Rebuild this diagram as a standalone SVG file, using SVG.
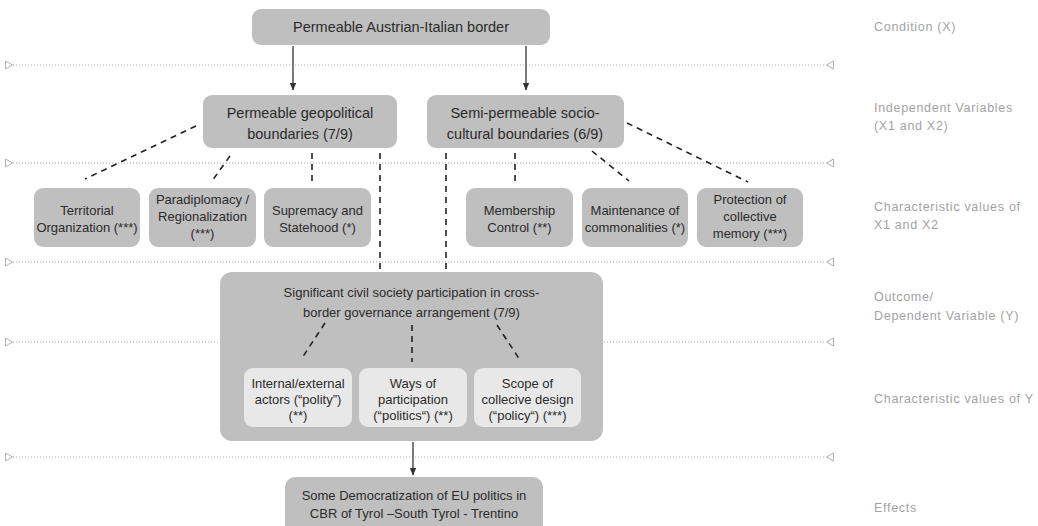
<svg xmlns="http://www.w3.org/2000/svg" width="1038" height="526" viewBox="0 0 1038 526">
<defs>
<style>
.box{fill:#bfbfbf;}
.inner{fill:#e8e8e8;}
.t{font-family:"Liberation Sans",Arial,sans-serif;fill:#2b2b2b;text-anchor:middle;}
.t14{font-size:14.5px;}
.t13{font-size:13px;}
.lab{font-family:"Liberation Sans",Arial,sans-serif;font-size:12.5px;fill:#a3a3a3;letter-spacing:0.7px;}
.dot{stroke:#a8a8a8;stroke-width:1;stroke-dasharray:1,2;fill:none;}
.tri{fill:#fff;stroke:#b0b0b0;stroke-width:1;}
.dash{stroke:#222;stroke-width:1.6;stroke-dasharray:6,5;fill:none;}
.arr{stroke:#333;stroke-width:1.3;fill:none;marker-end:url(#ah);}
</style>
<marker id="ah" markerWidth="8" markerHeight="8" refX="7" refY="4" orient="auto" markerUnits="userSpaceOnUse">
<path d="M0,0.8 L7.5,4 L0,7.2 Z" fill="#333"/>
</marker>
</defs>
<rect width="1038" height="526" fill="#fff"/>

<g id="guides">
<line class="dot" x1="13" y1="65" x2="826" y2="65"/>
<line class="dot" x1="13" y1="163" x2="826" y2="163"/>
<line class="dot" x1="13" y1="262" x2="826" y2="262"/>
<line class="dot" x1="13" y1="342" x2="826" y2="342"/>
<line class="dot" x1="13" y1="457" x2="826" y2="457"/>
<path class="tri" d="M5.5,61 L12.5,65 L5.5,69 Z"/>
<path class="tri" d="M5.5,159 L12.5,163 L5.5,167 Z"/>
<path class="tri" d="M5.5,258 L12.5,262 L5.5,266 Z"/>
<path class="tri" d="M5.5,338 L12.5,342 L5.5,346 Z"/>
<path class="tri" d="M5.5,453 L12.5,457 L5.5,461 Z"/>
<path class="tri" d="M833.5,61 L826.5,65 L833.5,69 Z"/>
<path class="tri" d="M833.5,159 L826.5,163 L833.5,167 Z"/>
<path class="tri" d="M833.5,258 L826.5,262 L833.5,266 Z"/>
<path class="tri" d="M833.5,338 L826.5,342 L833.5,346 Z"/>
<path class="tri" d="M833.5,453 L826.5,457 L833.5,461 Z"/>
</g>

<g id="labels">
<text class="lab" x="874" y="31">Condition (X)</text>
<text class="lab" x="874" y="112">Independent Variables</text>
<text class="lab" x="874" y="130">(X1 and X2)</text>
<text class="lab" x="874" y="211">Characteristic values of</text>
<text class="lab" x="874" y="229">X1 and X2</text>
<text class="lab" x="874" y="301">Outcome/</text>
<text class="lab" x="874" y="320">Dependent Variable (Y)</text>
<text class="lab" x="874" y="403">Characteristic values of Y</text>
<text class="lab" x="874" y="512">Effects</text>
</g>

<g id="n-condition">
<rect class="box" x="252" y="9" width="298" height="36" rx="9"/>
<text class="t t14" x="401" y="32">Permeable Austrian-Italian border</text>
</g>

<g id="n-geo">
<rect class="box" x="203" y="95" width="194" height="53" rx="9"/>
<text class="t t14" x="300" y="118">Permeable geopolitical</text>
<text class="t t14" x="300" y="139">boundaries (7/9)</text>
</g>

<g id="n-socio">
<rect class="box" x="427" y="95" width="197" height="53" rx="9"/>
<text class="t t14" x="525" y="118">Semi-permeable socio-</text>
<text class="t t14" x="525" y="139">cultural boundaries (6/9)</text>
</g>

<g id="n-territorial">
<rect class="box" x="34" y="188" width="106" height="59" rx="9"/>
<text class="t t13" x="87" y="215">Territorial</text>
<text class="t t13" x="87" y="232">Organization (***)</text>
</g>

<g id="n-paradiplomacy">
<rect class="box" x="149" y="188" width="107" height="59" rx="9"/>
<text class="t t13" x="202.5" y="204">Paradiplomacy /</text>
<text class="t t13" x="202.5" y="221">Regionalization</text>
<text class="t t13" x="202.5" y="238">(***)</text>
</g>

<g id="n-supremacy">
<rect class="box" x="264" y="188" width="107" height="59" rx="9"/>
<text class="t t13" x="317.5" y="215">Supremacy and</text>
<text class="t t13" x="317.5" y="232">Statehood (*)</text>
</g>

<g id="n-membership">
<rect class="box" x="466" y="188" width="107" height="59" rx="9"/>
<text class="t t13" x="519.5" y="215">Membership</text>
<text class="t t13" x="519.5" y="232">Control (**)</text>
</g>

<g id="n-maintenance">
<rect class="box" x="582" y="188" width="106" height="59" rx="9"/>
<text class="t t13" x="635" y="215">Maintenance of</text>
<text class="t t13" x="635" y="232">commonalities (*)</text>
</g>

<g id="n-protection">
<rect class="box" x="697" y="188" width="106" height="59" rx="9"/>
<text class="t t13" x="750" y="204">Protection of</text>
<text class="t t13" x="750" y="221">collective</text>
<text class="t t13" x="750" y="238">memory (***)</text>
</g>

<g id="n-outcome">
<rect class="box" x="220" y="272" width="383" height="169" rx="12"/>
<text class="t t13" x="411.5" y="297">Significant civil society participation in cross-</text>
<text class="t t13" x="411.5" y="317">border governance arrangement (7/9)</text>
</g>

<g id="n-polity">
<rect class="inner" x="244" y="368" width="108" height="59" rx="9"/>
<text class="t t13" x="298" y="388">Internal/external</text>
<text class="t t13" x="298" y="404">actors (“polity”)</text>
<text class="t t13" x="298" y="420">(**)</text>
</g>

<g id="n-politics">
<rect class="inner" x="359" y="368" width="108" height="59" rx="9"/>
<text class="t t13" x="413" y="388">Ways of</text>
<text class="t t13" x="413" y="404">participation</text>
<text class="t t13" x="413" y="420">(“politics“) (**)</text>
</g>

<g id="n-policy">
<rect class="inner" x="474" y="368" width="107" height="59" rx="9"/>
<text class="t t13" x="527.5" y="388">Scope of</text>
<text class="t t13" x="527.5" y="404">collecive design</text>
<text class="t t13" x="527.5" y="420">(“policy“) (***)</text>
</g>

<g id="n-effects">
<rect class="box" x="285" y="477" width="258" height="60" rx="10"/>
<text class="t t13" x="414" y="500">Some Democratization of EU politics in</text>
<text class="t t13" x="414" y="518">CBR of Tyrol –South Tyrol - Trentino</text>
</g>

<g id="connectors">
<line class="arr" x1="293" y1="46" x2="293" y2="90"/>
<line class="arr" x1="526" y1="46" x2="526" y2="90"/>
<line class="arr" x1="413" y1="442" x2="413" y2="475"/>
<line class="dash" x1="196" y1="126" x2="85" y2="179"/>
<line class="dash" x1="230" y1="156" x2="212" y2="181"/>
<line class="dash" x1="312" y1="153" x2="312" y2="181"/>
<line class="dash" x1="380" y1="153" x2="380" y2="272"/>
<line class="dash" x1="446" y1="153" x2="446" y2="272"/>
<line class="dash" x1="515" y1="153" x2="515" y2="181"/>
<line class="dash" x1="592" y1="151" x2="629" y2="181"/>
<line class="dash" x1="627" y1="123" x2="748" y2="182"/>
<line class="dash" x1="325" y1="323" x2="302" y2="358"/>
<line class="dash" x1="412" y1="325" x2="412" y2="362"/>
<line class="dash" x1="497" y1="325" x2="520" y2="360"/>
</g>
</svg>
